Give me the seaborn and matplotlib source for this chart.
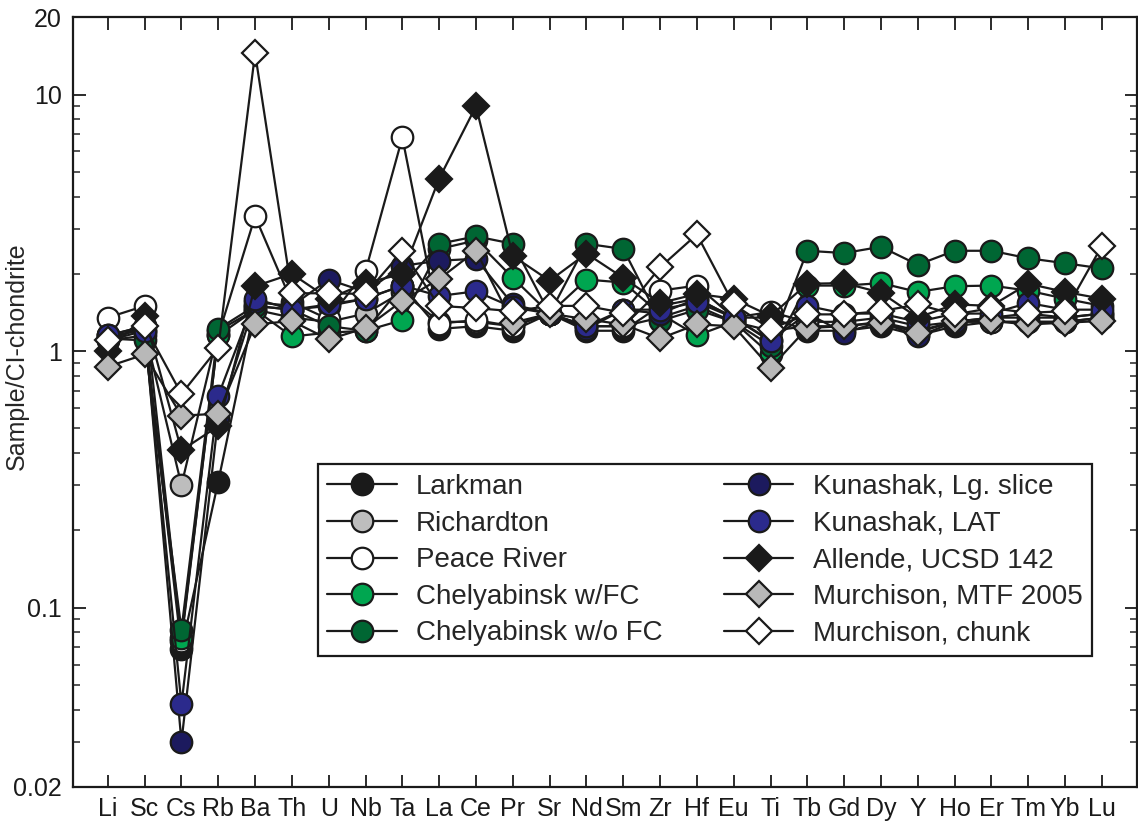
import matplotlib
matplotlib.use("Agg")
import matplotlib.pyplot as plt
import seaborn as sns
import numpy as np
import pandas as pd
from matplotlib.ticker import FixedLocator, FixedFormatter, LogLocator, NullFormatter
from matplotlib.lines import Line2D

elements = ["Li", "Sc", "Cs", "Rb", "Ba", "Th", "U", "Nb", "Ta", "La", "Ce", "Pr", "Sr", "Nd",
            "Sm", "Zr", "Hf", "Eu", "Ti", "Tb", "Gd", "Dy", "Y", "Ho", "Er", "Tm", "Yb", "Lu"]

larkman = [1.15, 1.25, 0.069, 0.31, 1.5, 1.45, 1.5, 1.6, 1.8, 1.22, 1.25, 1.2, 1.4, 1.2,
           1.2, 1.5, 1.6, 1.35, 1.35, 1.2, 1.2, 1.25, 1.15, 1.25, 1.3, 1.3, 1.3, 1.35]
richardton = [1.1, 1.2, 0.30, 1.2, 1.45, 1.35, 1.3, 1.4, 1.7, 1.3, 1.3, 1.25, 1.4, 1.25,
              1.25, 1.35, 1.5, 1.3, 1.2, 1.25, 1.25, 1.3, 1.2, 1.3, 1.3, 1.3, 1.3, 1.35]
peace_river = [1.35, 1.5, 0.074, 1.15, 3.35, 1.55, 1.33, 2.05, 6.8, 1.28, 1.32, 1.25, 1.4, 1.25,
               1.25, 1.72, 1.8, 1.35, 1.42, 1.3, 1.3, 1.35, 1.25, 1.3, 1.35, 1.35, 1.35, 1.4]
chely_fc = [1.1, 1.15, 0.076, 1.15, 1.45, 1.14, 1.18, 1.2, 1.32, 2.5, 2.7, 1.93, 1.4, 1.9,
            1.85, 1.4, 1.15, 1.3, 0.97, 1.8, 1.8, 1.84, 1.7, 1.79, 1.8, 1.72, 1.6, 1.5]
chely_nofc = [1.12, 1.1, 0.082, 1.22, 1.5, 1.45, 1.25, 1.2, 1.8, 2.62, 2.8, 2.62, 1.4, 2.62,
              2.5, 1.31, 1.45, 1.3, 1.05, 2.46, 2.41, 2.55, 2.17, 2.46, 2.46, 2.3, 2.2, 2.1]
kuna_lg = [1.15, 1.25, 0.030, 0.55, 1.55, 1.5, 1.9, 1.7, 2.15, 2.25, 2.29, 1.52, 1.4, 1.22,
           1.45, 1.4, 1.6, 1.35, 1.1, 1.4, 1.18, 1.3, 1.14, 1.3, 1.35, 1.4, 1.35, 1.4]
kuna_lat = [1.15, 1.2, 0.042, 0.67, 1.6, 1.45, 1.52, 1.6, 1.8, 1.64, 1.71, 1.48, 1.4, 1.25,
            1.45, 1.45, 1.55, 1.35, 1.09, 1.5, 1.4, 1.4, 1.3, 1.4, 1.4, 1.54, 1.45, 1.45]
allende = [1.0, 1.37, 0.41, 0.51, 1.79, 2.0, 1.6, 1.84, 2.0, 4.7, 9.0, 2.35, 1.88, 2.4,
           1.93, 1.54, 1.67, 1.6, 1.37, 1.83, 1.84, 1.69, 1.35, 1.52, 1.5, 1.83, 1.7, 1.6]
murch_mtf = [0.87, 0.97, 0.56, 0.57, 1.27, 1.31, 1.11, 1.23, 1.57, 1.91, 2.46, 1.29, 1.4, 1.33,
             1.27, 1.12, 1.27, 1.25, 0.86, 1.23, 1.25, 1.29, 1.18, 1.31, 1.31, 1.27, 1.29, 1.31]
murch_chunk = [1.1, 1.25, 0.68, 1.03, 14.5, 1.68, 1.68, 1.67, 2.45, 1.5, 1.47, 1.43, 1.5, 1.5,
               1.41, 2.12, 2.85, 1.52, 1.22, 1.39, 1.39, 1.43, 1.52, 1.39, 1.47, 1.41, 1.43, 2.57]

series_names = ["Larkman", "Richardton", "Peace River", "Chelyabinsk w/FC", "Chelyabinsk w/o FC",
                "Kunashak, Lg. slice", "Kunashak, LAT", "Allende, UCSD 142",
                "Murchison, MTF 2005", "Murchison, chunk"]
series_values = [larkman, richardton, peace_river, chely_fc, chely_nofc,
                 kuna_lg, kuna_lat, allende, murch_mtf, murch_chunk]
markers = ["o", "o", "o", "o", "o", "o", "o", "D", "D", "D"]
facecolors = ["#1a1a1a", "#bdbdbd", "#ffffff", "#00a650", "#006633",
              "#1c1a5e", "#2b2a8c", "#1a1a1a", "#b8b8b8", "#ffffff"]

rows = []
for name, vals in zip(series_names, series_values):
    for i, (el, v) in enumerate(zip(elements, vals)):
        rows.append({"series": name, "pos": i, "element": el, "value": v})
df = pd.DataFrame(rows)

sns.set_style("ticks")
plt.rcParams["font.family"] = ["Liberation Sans", "DejaVu Sans"]

fig = plt.figure(figsize=(11.38, 8.24), dpi=100)
ax = fig.add_axes([0.064, 0.045, 0.935, 0.934])

handles = []
for name, mk, fc in zip(series_names, markers, facecolors):
    sub = df[df["series"] == name]
    ms = 15.5 if mk == "o" else 13
    sns.lineplot(data=sub, x="pos", y="value", color="#1a1a1a", linewidth=1.6,
                 marker=mk, markersize=ms, markerfacecolor=fc, markeredgecolor="#1a1a1a",
                 markeredgewidth=1.6, ax=ax, legend=False)
    handles.append(Line2D([0], [0], color="#1a1a1a", linewidth=1.6, marker=mk,
                          markersize=ms, markerfacecolor=fc, markeredgecolor="#1a1a1a",
                          markeredgewidth=1.6))

ax.set_yscale("log")
ax.set_ylim(0.02, 20)
ax.set_xlim(-0.95, 27.95)

ax.yaxis.set_major_locator(FixedLocator([0.02, 0.1, 1, 10, 20]))
ax.yaxis.set_major_formatter(FixedFormatter(["0.02", "0.1", "1", "10", "20"]))
ax.yaxis.set_minor_locator(LogLocator(base=10, subs=np.arange(2, 10)))
ax.yaxis.set_minor_formatter(NullFormatter())

ax.set_xticks(range(len(elements)))
ax.set_xticklabels(elements, fontsize=18)

ax.tick_params(axis="both", which="major", direction="in", length=9, width=1.3,
               top=True, right=True, colors="#1a1a1a")
ax.tick_params(axis="y", which="major", labelsize=18)
ax.tick_params(axis="y", which="minor", direction="in", length=5, width=1.1, right=True)
ax.tick_params(axis="x", which="major", pad=7)
ax.tick_params(axis="y", which="major", pad=8)
for sp in ax.spines.values():
    sp.set_linewidth(1.6)
    sp.set_color("#1a1a1a")

ax.set_xlabel("")
ax.set_ylabel("Sample/CI-chondrite", fontsize=18)
ax.yaxis.set_label_coords(-0.041, 0.56)

leg = ax.legend(handles, series_names, ncol=2, loc="upper left",
                bbox_to_anchor=(0.230, 0.419), frameon=True, fancybox=False,
                edgecolor="#1a1a1a", framealpha=1,
                prop={"size": 20}, handlelength=2.5,
                handletextpad=0.7, labelspacing=0.38, columnspacing=2.2,
                borderpad=0.35, borderaxespad=0)
leg.get_frame().set_linewidth(1.6)

fig.savefig("out.png", dpi=100)
